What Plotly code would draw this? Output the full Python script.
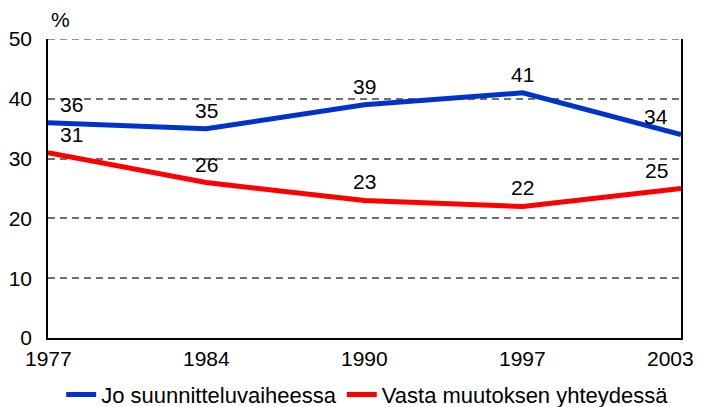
import plotly.graph_objects as go

years = ["1977", "1984", "1990", "1997", "2003"]
jo_suunnittelu = [36, 35, 39, 41, 34]
vasta_muutos = [31, 26, 23, 22, 25]
series_names = ["Jo suunnitteluvaiheessa", "Vasta muutoksen yhteydessä"]
y_ticks = [0, 10, 20, 30, 40, 50]

font_family = "Liberation Sans, Arial, sans-serif"
fs = 21
label_xshift = [23, 0, 0, 0, -25]

fig = go.Figure()
annotations = []
for vals, name, color in [(jo_suunnittelu, series_names[0], "#0033CC"),
                          (vasta_muutos, series_names[1], "#FF0000")]:
    fig.add_trace(go.Scatter(
        x=years, y=vals, mode="lines", name=name,
        line=dict(color=color, width=5),
    ))
    for i, (yi, xs) in enumerate(zip(vals, label_xshift)):
        annotations.append(dict(
            x=i, y=yi, xref="x", yref="y", text=str(yi), showarrow=False,
            xanchor="center", yanchor="bottom", xshift=xs, yshift=5,
            font=dict(size=fs, color="black", family=font_family)))

# x-axis category labels (last one kept inside the window edge)
for i, yr in enumerate(years):
    last = i == len(years) - 1
    annotations.append(dict(
        x=i, y=0, xref="x", yref="paper", text=yr, showarrow=False,
        xanchor="right" if last else "center", xshift=15 if last else 0,
        yanchor="top", yshift=-7,
        font=dict(size=fs, color="black", family=font_family)))

fig.add_shape(type="line", xref="paper", x0=0, x1=1, yref="y",
              y0=y_ticks[-1], y1=y_ticks[-1],
              line=dict(color="#707070", width=1.5, dash="7px,5px"), layer="below")

annotations.append(dict(text="%", x=0, xref="paper", y=1.0, yref="paper",
                        xanchor="left", yanchor="bottom", yshift=6, xshift=1,
                        showarrow=False, font=dict(size=fs)))

fig.update_layout(
    width=696, height=399,
    margin=dict(l=40, r=23, t=31, b=69, autoexpand=False),
    paper_bgcolor="white", plot_bgcolor="white",
    font=dict(family=font_family, size=fs, color="black"),
    showlegend=True,
    legend=dict(orientation="h", x=0.505, xref="paper", xanchor="center",
                y=-0.19, yref="paper", yanchor="middle",
                font=dict(size=22), itemwidth=30, tracegroupgap=0,
                bgcolor="rgba(0,0,0,0)"),
    xaxis=dict(type="category", range=[0, 4], showgrid=False, showline=True,
               linecolor="black", linewidth=1.5, showticklabels=False,
               ticks="", automargin=False),
    yaxis=dict(range=[0, 50], tickvals=y_ticks, showgrid=True,
               gridcolor="#707070", griddash="7px,5px", gridwidth=1.5,
               showline=True, mirror=True, linecolor="black", linewidth=1.5,
               ticks="outside", ticklen=10, tickcolor="white",
               zeroline=False, automargin=False, tickfont=dict(size=fs)),
    annotations=annotations,
)

fig.write_html("out.html")
